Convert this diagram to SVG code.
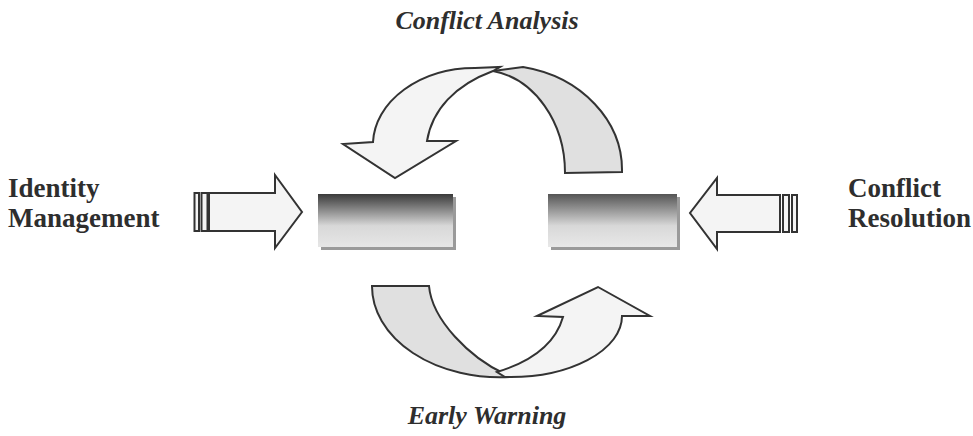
<svg xmlns="http://www.w3.org/2000/svg" width="973" height="436" viewBox="0 0 973 436">
<style>
.lbl{font-family:"Liberation Serif","Times New Roman",serif;font-weight:bold;font-size:26px;fill:#2e2e2e}
.side{font-size:27px}
.it{font-style:italic}
.ln{stroke:#333;stroke-width:2;stroke-linejoin:miter;stroke-miterlimit:10}
.lt{fill:#f4f4f4}
.dk{fill:#e0e0e0}
.shadow{fill:#9a9a9a}
</style>
<defs>
<linearGradient id="g1" x1="0" y1="0" x2="0" y2="1">
<stop offset="0" stop-color="#3a3a3a"/>
<stop offset="0.6" stop-color="#d8d8d8"/>
<stop offset="1" stop-color="#e6e6e6"/>
</linearGradient>
<linearGradient id="g2" x1="0" y1="0" x2="0" y2="1">
<stop offset="0" stop-color="#555"/>
<stop offset="0.6" stop-color="#d8d8d8"/>
<stop offset="1" stop-color="#e8e8e8"/>
</linearGradient>
</defs>
<rect width="973" height="436" fill="#fff"/>

<g id="label-conflict-analysis"><text class="lbl it" x="487" y="29" text-anchor="middle">Conflict Analysis</text></g>
<g id="label-early-warning"><text class="lbl it" x="487" y="424" text-anchor="middle">Early Warning</text></g>
<g id="label-identity-management"><text class="lbl side" x="8" y="197">Identity</text><text class="lbl side" x="8" y="227">Management</text></g>
<g id="label-conflict-resolution"><text class="lbl side" x="848" y="197">Conflict</text><text class="lbl side" x="848" y="227">Resolution</text></g>

<g id="box-left">
<rect class="shadow" x="321" y="197" width="135" height="53"/>
<rect x="318" y="194" width="135" height="53" fill="url(#g1)"/>
</g>
<g id="box-right">
<rect class="shadow" x="551" y="197" width="129" height="53"/>
<rect x="548" y="194" width="129" height="53" fill="url(#g2)"/>
</g>

<g id="connectors">
<g id="arrow-top">
<path class="ln dk" d="M493,71 L523,67 A122 105 0 0 1 622,172 L565,173 A85 103 0 0 0 493,71 Z"/>
<path class="ln lt" d="M373,142 A102 77 0 0 1 475,68 L500,67 L493,71 C455,85 432,110 427,141 L456,141 L395,178 L343,144 Z"/>
</g>
<g id="arrow-bottom">
<path class="ln dk" d="M372,286 L429,286 C432,320 470,358 505,374 L510,377 A128 91 0 0 1 372,286 Z"/>
<path class="ln lt" d="M497,372 C530,362 555,345 563,317 L537,316 L598,287 L650,316 L622,316 A112 61 0 0 1 505,377 Z"/>
</g>
<g id="arrow-left">
<rect class="ln lt" x="194.5" y="193" width="4.5" height="38"/>
<rect class="ln lt" x="201.5" y="193" width="6" height="38"/>
<path class="ln lt" d="M209,193 L275,193 L275,175 L302,212 L275,248 L275,231 L209,231 Z"/>
</g>
<g id="arrow-right">
<rect class="ln lt" x="792" y="195" width="5" height="37"/>
<rect class="ln lt" x="783" y="195" width="6" height="37"/>
<path class="ln lt" d="M780,195 L717,195 L717,178 L690,213 L717,249 L717,232 L780,232 Z"/>
</g>
</g>
</svg>
